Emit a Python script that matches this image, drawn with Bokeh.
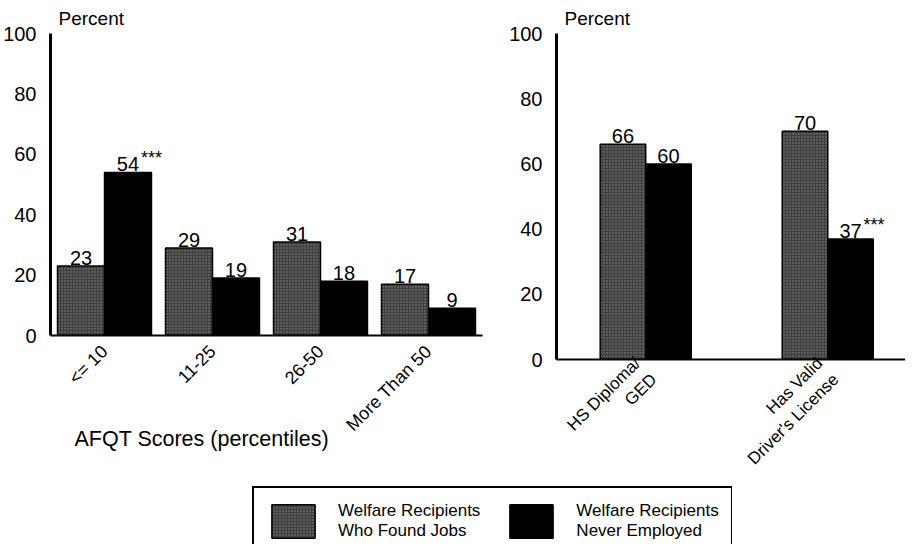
import math
from bokeh.plotting import figure
from bokeh.models import (ColumnDataSource, FactorRange, Range1d, FixedTicker,
                          Legend, LegendItem, Label)
from bokeh.transform import dodge
from bokeh.layouts import column, row
from bokeh.core.properties import value
from bokeh.embed import file_html
from bokeh.resources import INLINE

# ---- data ----
left_cats = ["<= 10", "11-25", "26-50", "More Than 50"]
left_jobs = [23, 29, 31, 17]
left_never = [54, 19, 18, 9]
left_never_sig = ["***", "", "", ""]

right_cats = ["HS Diploma/\nGED", "Has Valid\nDriver's License"]
right_jobs = [66, 70]
right_never = [60, 37]
right_never_sig = ["", "***"]

y_ticks = [0, 20, 40, 60, 80, 100]
series_names = ["Welfare Recipients\nWho Found Jobs", "Welfare Recipients\nNever Employed"]
x_title = "AFQT Scores (percentiles)"
y_title = "Percent"

FONT = "Liberation Sans"
GRAY = "#3e3e3e"
BLACK = "#000000"


def style_gray(kw):
    kw.update(fill_color=GRAY, line_color="black", line_width=1.5,
              hatch_pattern=".", hatch_color="#8c8c8c", hatch_scale=3, hatch_weight=1)
    return kw


def style_axes(p, tick_size, standoff):
    p.grid.visible = False
    p.outline_line_color = None
    p.background_fill_color = "white"
    p.border_fill_color = "white"
    for ax in (p.xaxis[0], p.yaxis[0]):
        ax.major_tick_line_color = None
        ax.minor_tick_line_color = None
        ax.axis_line_color = "black"
        ax.major_label_text_font = FONT
        ax.major_label_text_color = "black"
    p.yaxis[0].axis_line_width = 3
    p.xaxis[0].axis_line_width = 2
    p.yaxis[0].major_label_text_font_size = "20px"
    p.yaxis[0].major_label_standoff = 8
    p.yaxis[0].ticker = FixedTicker(ticks=y_ticks)
    p.xaxis[0].major_label_text_font_size = tick_size
    p.xaxis[0].major_label_orientation = math.pi / 4
    p.xaxis[0].major_label_standoff = standoff
    p.title.text = y_title
    p.title.align = "left"
    p.title.offset = 8
    p.title.text_font = FONT
    p.title.text_font_size = "19px"
    p.title.text_font_style = "normal"
    p.title.text_color = "black"


lbl_kw = dict(text_font=value(FONT), text_font_size="20px", text_align="center",
              text_baseline="bottom", y_offset=-1, text_color="black")
sig_kw = dict(text_font=value(FONT), text_font_size="18px", text_align="left",
              text_baseline="top", x_offset=13, y_offset=-24, text_color="black")

# ---- left panel ----
src_l = ColumnDataSource(dict(
    cat=left_cats, jobs=left_jobs, never=left_never,
    jobs_lbl=[str(v) for v in left_jobs], never_lbl=[str(v) for v in left_never],
    sig=left_never_sig))

p1 = figure(frame_width=432, frame_height=302, output_backend="svg", toolbar_location=None,
            x_range=FactorRange(factors=left_cats, range_padding=0),
            y_range=Range1d(0, 100),
            min_border_left=46, min_border_right=24, min_border_top=27, min_border_bottom=125)
bw = 0.435
off = bw / 2
p1.vbar(x=dodge("cat", -off, range=p1.x_range), top="jobs", width=bw, source=src_l,
        **style_gray({}))
p1.vbar(x=dodge("cat", off, range=p1.x_range), top="never", width=bw, source=src_l,
        fill_color=BLACK, line_color="black", line_width=1.5)
p1.text(x=dodge("cat", -off, range=p1.x_range), y="jobs", text="jobs_lbl", source=src_l, **lbl_kw)
p1.text(x=dodge("cat", off, range=p1.x_range), y="never", text="never_lbl", source=src_l, **lbl_kw)
p1.text(x=dodge("cat", off, range=p1.x_range), y="never", text="sig", source=src_l, **sig_kw)
style_axes(p1, "18px", 7)
# x-axis title: placed in the bottom side panel, 103 px below the zero line
p1.add_layout(Label(x=24, y=-103 / 3.02, x_units="screen", y_units="data", text=x_title,
                    text_font=FONT, text_font_size="21.5px", text_baseline="middle",
                    text_align="left", text_color="black"), "below")

# ---- right panel ----
xr = list(range(len(right_cats)))
src_r = ColumnDataSource(dict(
    x=xr, jobs=right_jobs, never=right_never,
    jobs_lbl=[str(v) for v in right_jobs], never_lbl=[str(v) for v in right_never],
    sig=right_never_sig))
p2 = figure(frame_width=349, frame_height=326, output_backend="svg", toolbar_location=None,
            x_range=Range1d(-0.49, 1.427), y_range=Range1d(0, 100),
            min_border_left=46, min_border_right=0, min_border_top=25, min_border_bottom=124)
bw2 = 0.25
off2 = bw2 / 2
p2.vbar(x=dodge("x", -off2), top="jobs", width=bw2, source=src_r, **style_gray({}))
p2.vbar(x=dodge("x", off2), top="never", width=bw2, source=src_r,
        fill_color=BLACK, line_color="black", line_width=1.5)
p2.text(x=dodge("x", -off2), y="jobs", text="jobs_lbl", source=src_r, **lbl_kw)
p2.text(x=dodge("x", off2), y="never", text="never_lbl", source=src_r, **lbl_kw)
p2.text(x=dodge("x", off2), y="never", text="sig", source=src_r, **sig_kw)
style_axes(p2, "17px", 3)
p2.xaxis[0].ticker = FixedTicker(ticks=xr)
p2.xaxis[0].major_label_overrides = {i: c for i, c in zip(xr, right_cats)}

# ---- legend panel ----
p3 = figure(width=897, height=58, output_backend="svg", toolbar_location=None,
            x_range=Range1d(0, 1), y_range=Range1d(0, 1),
            x_axis_location=None, y_axis_location=None,
            min_border_left=252, min_border_right=165, min_border_top=0, min_border_bottom=0)
p3.grid.visible = False
p3.outline_line_color = None
proxy = ColumnDataSource(dict(x=[float("nan")], top=[float("nan")]))
r_a = p3.vbar(x="x", top="top", width=0.1, source=proxy, **style_gray({}))
r_b = p3.vbar(x="x", top="top", width=0.1, source=proxy,
              fill_color=BLACK, line_color="black", line_width=1.5)
leg = Legend(items=[LegendItem(label=series_names[0], renderers=[r_a]),
                    LegendItem(label=series_names[1], renderers=[r_b])],
             orientation="horizontal", location="top_left",
             glyph_width=54, glyph_height=42, label_standoff=18, spacing=24,
             padding=12, margin=0,
             label_text_font=FONT, label_text_font_size="17px", label_text_color="black",
             border_line_color="black", border_line_width=2, border_line_alpha=1,
             background_fill_color="white", background_fill_alpha=1)
p3.add_layout(leg, "center")

layout = column(row(p1, p2), p3)
open("out.html", "w").write(file_html(layout, INLINE))
